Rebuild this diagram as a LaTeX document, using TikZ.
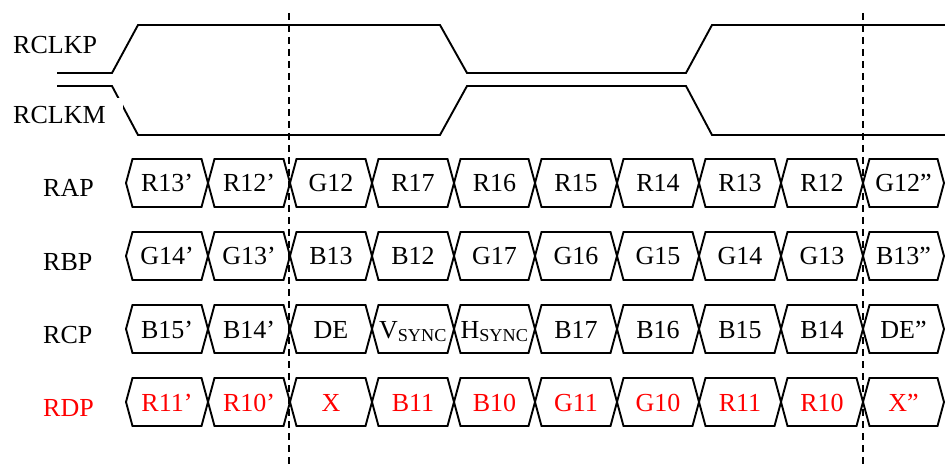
\documentclass[tikz,border=0pt]{standalone}
\usepackage{fontspec}
\setmainfont{Liberation Serif}
\begin{document}
\begin{tikzpicture}[x=1pt,y=-1pt,
  wave/.style={line width=1.9pt, line join=miter},
  cellline/.style={line width=1.9pt, line join=miter},
  guide/.style={line width=1.9pt, dash pattern=on 7pt off 5pt},
  celltxt/.style={font=\fontsize{26}{30}\selectfont, inner sep=0pt, anchor=base},
  lbl/.style={font=\fontsize{26}{30}\selectfont, inner sep=0pt, anchor=base west}]
\useasboundingbox (0,0) rectangle (945,465);
\def\bx{{126,208,290,372,454,535,617,699,781,863,944}}
\newcommand\busrow[4]{%
  \foreach \t [count=\i from 0] in {#4} {
    \pgfmathsetmacro\xl{\bx[\i]}
    \pgfmathsetmacro\xr{\bx[\i+1]}
    \draw[cellline] (\xl,#2) -- (\xl+6.5,#2-24) -- (\xr-6.5,#2-24) -- (\xr,#2)
      -- (\xr-6.5,#2+24) -- (\xl+6.5,#2+24) -- cycle;
    \node[celltxt,text=#3] (#1\i) at ({(\xl+\xr)/2},#2+9) {\t};
  }}
% clocks
\draw[wave] (57,73) -- (112,73) -- (138,25) -- (440,25) -- (467,73) -- (686,73) -- (712,25) -- (945,25);
\draw[wave] (57,86) -- (112,86) -- (138,135) -- (440,135) -- (467,86) -- (686,86) -- (712,135) -- (945,135);
\node[lbl] (rclkp) at (13,54) {RCLKP};
\node[lbl, fill=white, inner xsep=17pt, inner ysep=9pt, anchor=base west] (rclkm) at (-4,124) {RCLKM};
% bus rows
\busrow{a}{183}{black}{R13’,R12’,G12,R17,R16,R15,R14,R13,R12,G12”}
\busrow{b}{256}{black}{G14’,G13’,B13,B12,G17,G16,G15,G14,G13,B13”}
\busrow{c}{329}{black}{B15’,B14’,DE,{V\textsubscript{SYNC}},{H\textsubscript{SYNC}},B17,B16,B15,B14,DE”}
\busrow{d}{402}{red}{R11’,R10’,X,B11,B10,G11,G10,R11,R10,X”}
\node[lbl] (rap) at (43,197) {RAP};
\node[lbl] (rbp) at (43,270) {RBP};
\node[lbl] (rcp) at (43,343) {RCP};
\node[lbl, text=red] (rdp) at (43,416) {RDP};
% guides
\draw[guide] (289,13) -- (289,465);
\draw[guide] (863,13) -- (863,465);
\end{tikzpicture}
\end{document}
